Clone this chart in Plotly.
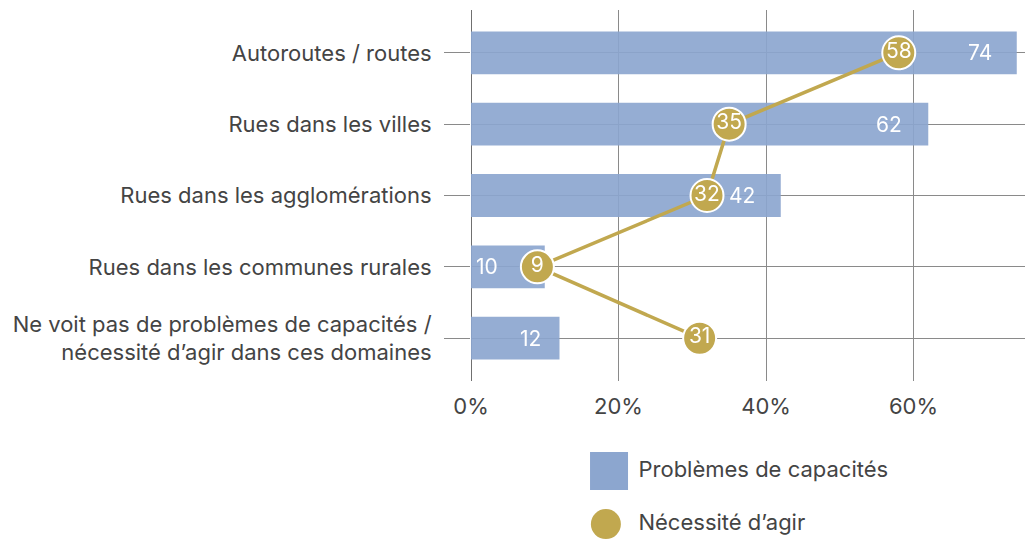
import plotly.graph_objects as go

categories = [
    "Autoroutes / routes",
    "Rues dans les villes",
    "Rues dans les agglomérations",
    "Rues dans les communes rurales",
    "Ne voit pas de problèmes de capacités /<br>nécessité d’agir dans ces domaines",
]
capacity_problems = [74, 62, 42, 10, 12]
need_to_act = [58, 35, 32, 9, 31]
x_ticks = [0, 20, 40, 60]
x_tick_labels = ["0%", "20%", "40%", "60%"]
legend_labels = ["Problèmes de capacités", "Nécessité d’agir"]

BLUE = "#8CA6CF"
GOLD = "#C1A84F"
TEXT = "#444444"
GRID = "#8a8a8a"
FONT = "Inter, Roboto, sans-serif"

# shift (px) of the white value labels from the bar end; None = at bar start
label_shift = [-37, -39, -39, None, -29]

fig = go.Figure()

fig.add_trace(go.Bar(
    y=categories, x=capacity_problems, orientation="h",
    marker=dict(color=BLUE, line=dict(width=0)), opacity=0.92,
    width=0.6, showlegend=False, hoverinfo="x+y",
))

fig.add_trace(go.Scatter(
    y=categories, x=need_to_act, mode="lines+markers+text",
    line=dict(color=GOLD, width=3.5),
    marker=dict(size=33, color=GOLD, opacity=1, line=dict(color="white", width=2)),
    text=[str(v) for v in need_to_act], textposition="middle center",
    textfont=dict(color="white", size=21, family=FONT),
    cliponaxis=False, showlegend=False,
))

# value labels inside the bars
for cat, val, shift in zip(categories, capacity_problems, label_shift):
    if shift is None:
        xpos, xs = 0, 16
    else:
        xpos, xs = val, shift
    fig.add_annotation(
        x=xpos, y=cat, xref="x", yref="y", text=str(val), showarrow=False,
        xshift=xs, font=dict(color="white", size=21, family=FONT),
    )

# custom legend drawn on a separate axis below the plot
fig.add_trace(go.Scatter(
    x=[0.2456, 0.24], y=[0.65, 0.15], mode="markers",
    marker=dict(symbol=["square", "circle"], size=[38, 30], color=[BLUE, GOLD],
                opacity=1, line=dict(width=0)),
    xaxis="x2", yaxis="y2", showlegend=False, hoverinfo="skip", cliponaxis=False,
))
fig.add_trace(go.Scatter(
    x=[0.298, 0.298], y=[0.65, 0.15], mode="text",
    text=legend_labels, textposition="middle right",
    textfont=dict(color=TEXT, size=22, family=FONT),
    xaxis="x2", yaxis="y2", showlegend=False, hoverinfo="skip", cliponaxis=False,
))

fig.update_layout(
    width=1025, height=532,
    margin=dict(l=463, r=0, t=2, b=0),
    plot_bgcolor="white", paper_bgcolor="white",
    font=dict(family=FONT, size=22, color=TEXT),
    xaxis=dict(
        range=[0, 76.2], tickvals=x_ticks, ticktext=x_tick_labels,
        showgrid=True, gridcolor=GRID, gridwidth=1,
        zeroline=True, zerolinecolor="#707070", zerolinewidth=1.2,
        showline=False, ticks="", fixedrange=True, ticklabelstandoff=10,
    ),
    yaxis=dict(
        domain=[0.3, 1], autorange=False, range=[4.6, -0.6],
        showgrid=True, gridcolor=GRID, gridwidth=1,
        ticks="outside", ticklen=26, tickcolor=GRID, tickwidth=1,
        ticklabelstandoff=8, zeroline=False, showline=False,
    ),
    xaxis2=dict(domain=[0, 1], range=[0, 1], visible=False, anchor="y2"),
    yaxis2=dict(domain=[0, 0.2], range=[0, 1], visible=False, anchor="x2"),
)

fig.write_html("out.html")
